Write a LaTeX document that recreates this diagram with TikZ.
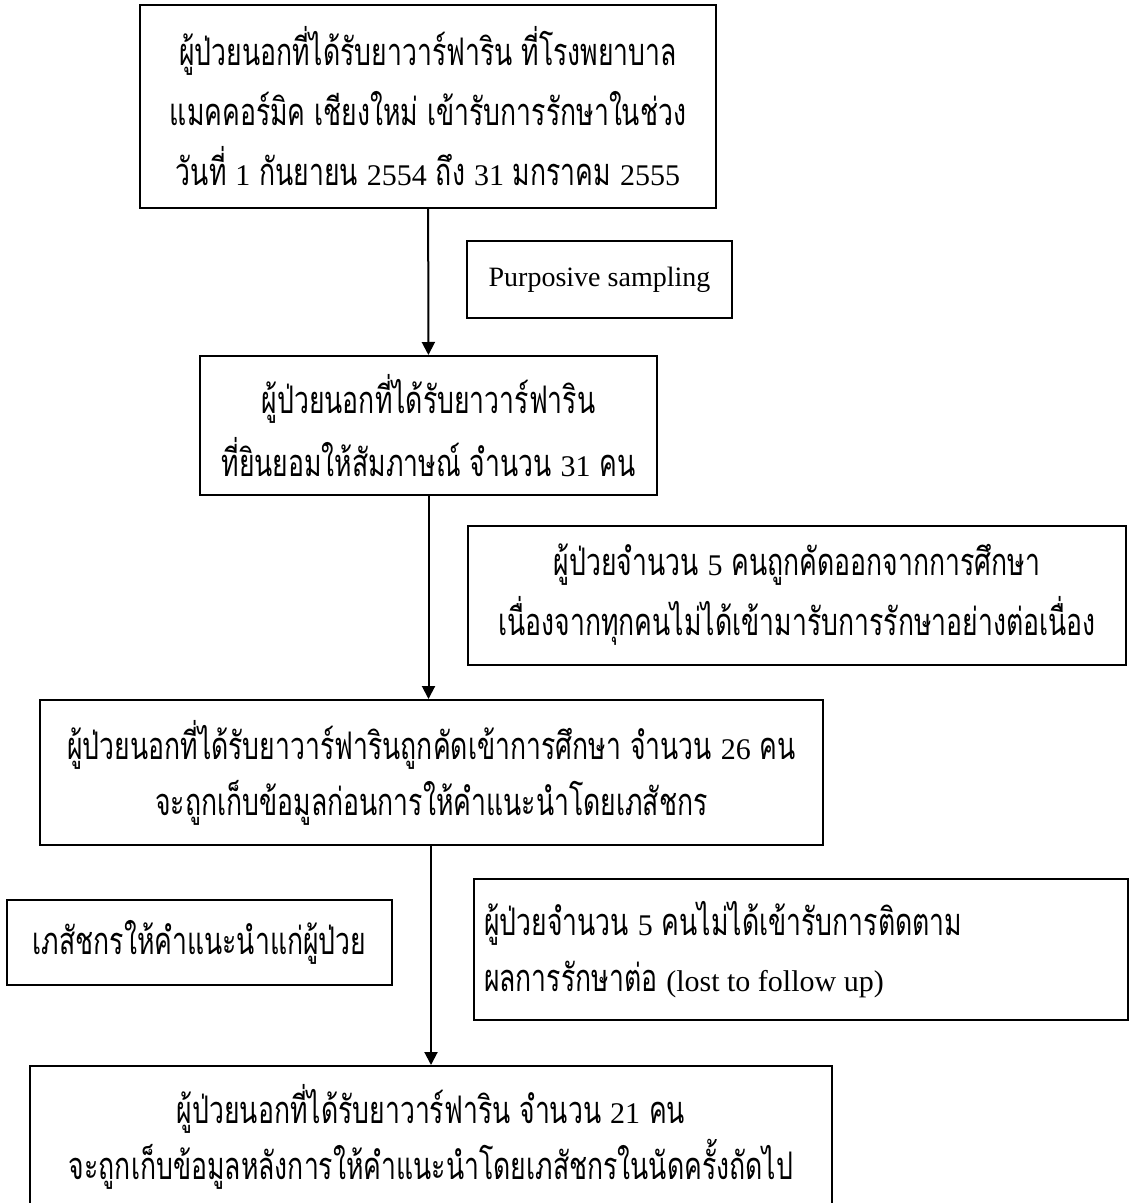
\documentclass[tikz,border=0pt]{standalone}
\usepackage{fontspec}
\setmainfont{Liberation Serif}
\newfontfamily\thaifont[Script=Thai,FakeStretch=0.7]{Loma}
\usetikzlibrary{arrows.meta, positioning}
\newcommand{\numtxt}[1]{{\rmfamily\fontsize{15}{30}\selectfont #1}}

\begin{document}
\begin{tikzpicture}[x=0.5pt, y=-0.5pt,
    box/.style={draw, line width=1pt, inner sep=0pt, align=center, font=\thaifont\fontsize{19}{30}\selectfont},
    tight/.style={font=\thaifont\fontsize{19}{28}\selectfont},
    flow/.style={line width=1pt, -{Triangle[length=6.5pt, width=6.5pt]}}]
    \useasboundingbox (0,0) rectangle (1139,1203);
    \clip (0,0) rectangle (1139,1203);
    \node[box, minimum width=288pt, minimum height=101.5pt] (source) at (428,106.5) {ผู้ป่วยนอกที่ได้รับยาวาร์ฟาริน ที่โรงพยาบาล\\แมคคอร์มิค เชียงใหม่ เข้ารับการรักษาในช่วง\\วันที่ \numtxt{1} กันยายน \numtxt{2554} ถึง \numtxt{31} มกราคม \numtxt{2555}};
    \node[box, minimum width=132.5pt, minimum height=38.5pt, font=\rmfamily\fontsize{14}{30}\selectfont] (sampling) at (599.5,279.5) {Purposive sampling};
    \node[box, minimum width=228.5pt, minimum height=69.5pt, font=\thaifont\fontsize{19}{31.5}\selectfont] (consent) at (428.5,425.5) {ผู้ป่วยนอกที่ได้รับยาวาร์ฟาริน\\ที่ยินยอมให้สัมภาษณ์ จำนวน \numtxt{31} คน};
    \node[box, minimum width=329pt, minimum height=69.5pt] (excluded) at (797,595) {ผู้ป่วยจำนวน \numtxt{5} คนถูกคัดออกจากการศึกษา\\เนื่องจากทุกคนไม่ได้เข้ามารับการรักษาอย่างต่อเนื่อง};
    \node[box, tight, minimum width=391.5pt, minimum height=72.5pt] (enrolled) at (431.5,772.5) {ผู้ป่วยนอกที่ได้รับยาวาร์ฟารินถูกคัดเข้าการศึกษา จำนวน \numtxt{26} คน\\จะถูกเก็บข้อมูลก่อนการให้คำแนะนำโดยเภสัชกร};
    \node[box, minimum width=192.5pt, minimum height=42.5pt] (advice) at (199.5,942.5) {เภสัชกรให้คำแนะนำแก่ผู้ป่วย};
    \node[box, tight, align=flush left, inner xsep=5pt, text width=317pt, minimum height=70.5pt] (lost) at (801,949.5) {ผู้ป่วยจำนวน \numtxt{5} คนไม่ได้เข้ารับการติดตาม\\ผลการรักษาต่อ {\rmfamily\fontsize{15}{28}\selectfont (lost to follow up)}};
    \node[box, tight, minimum width=401pt, minimum height=71pt] (final) at (431,1137) {ผู้ป่วยนอกที่ได้รับยาวาร์ฟาริน จำนวน \numtxt{21} คน\\จะถูกเก็บข้อมูลหลังการให้คำแนะนำโดยเภสัชกรในนัดครั้งถัดไป};
    \draw[flow] (source) -- (consent);
    \draw[flow] (consent.south) -- (consent.south |- enrolled.north);
    \draw[flow] (enrolled.south -| final.north) -- (final.north);
\end{tikzpicture}
\end{document}
